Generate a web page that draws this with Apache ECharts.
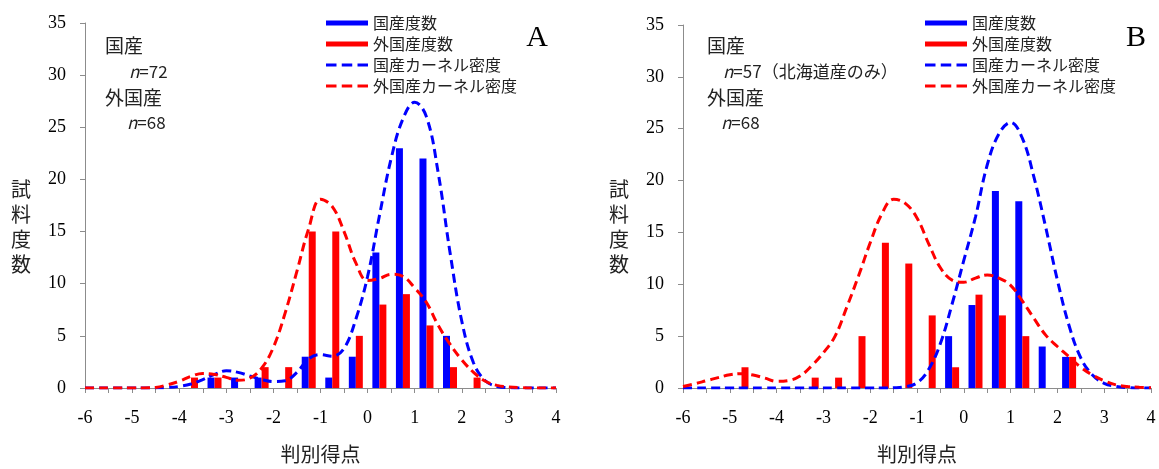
<!DOCTYPE html>
<html>
<head>
<meta charset="utf-8">
<script src="https://cdn.jsdelivr.net/npm/echarts@6/dist/echarts.min.js"></script>
<style>
html,body{margin:0;padding:0;background:#fff;}
#c{width:1159px;height:469px;}
</style>
</head>
<body>
<div id="c"></div>
<script>
// ---- data ----
const seriesNames = ['国産度数', '外国産度数', '国産カーネル密度', '外国産カーネル密度'];

const binCentersA = [-3.75, -3.25, -2.75, -2.25, -1.75, -1.25, -0.75, -0.25, 0.25, 0.75, 1.25, 1.75, 2.25];
const domesticA   = [0, 1, 1, 1, 0, 3, 1, 3, 13, 23, 22, 5, 0];
const foreignA    = [1, 1, 0, 2, 2, 15, 15, 5, 8, 9, 6, 2, 1];

const binCentersB = [-4.75, -4.25, -3.75, -3.25, -2.75, -2.25, -1.75, -1.25, -0.75, -0.25, 0.25, 0.75, 1.25, 1.75, 2.25];
const domesticB   = [0, 0, 0, 0, 0, 0, 0, 0, 0, 5, 8, 19, 18, 4, 3];
const foreignB    = [2, 0, 0, 1, 1, 5, 14, 12, 7, 2, 9, 7, 5, 0, 3];

const kdeX = [-6, -5.75, -5.5, -5.25, -5, -4.75, -4.5, -4.25, -4, -3.75,
              -3.5, -3.25, -3, -2.75, -2.5, -2.25, -2, -1.75, -1.5, -1.25,
              -1, -0.75, -0.5, -0.25, 0, 0.25, 0.5, 0.75, 1, 1.25,
              1.5, 1.75, 2, 2.25, 2.5, 2.75, 3, 3.25, 3.5, 3.75, 4];
const kdeDomesticA = [0, 0, 0, 0, 0, 0, 0.01, 0.05, 0.15, 0.38,
                      0.8, 1.3, 1.65, 1.5, 1.15, 0.82, 0.62, 0.7, 1.5, 2.8,
                      3.2, 3.05, 3.8, 6.6, 10.7, 16.5, 22, 25.8, 27.4, 26,
                      20.6, 13, 6.4, 2.4, 0.7, 0.15, 0.03, 0, 0, 0, 0];
const kdeForeignA  = [0, 0, 0, 0, 0, 0.01, 0.05, 0.3, 0.65, 1.12,
                      1.4, 1.3, 1.02, 0.74, 0.95, 1.9, 3.9, 7.2, 11.2, 15.3,
                      18.1, 17.4, 15.0, 12.0, 10.3, 10.5, 10.9, 10.7, 9.6, 8.2,
                      6.0, 4.2, 2.7, 1.5, 0.65, 0.25, 0.1, 0.03, 0, 0, 0];
const kdeDomesticB = [0, 0, 0, 0, 0, 0, 0, 0, 0, 0,
                      0, 0, 0, 0, 0, 0, 0, 0, 0.02, 0.12,
                      0.5, 1.8, 4.3, 8.1, 12.3, 16.5, 21.5, 24.5, 25.6, 24.1,
                      20.3, 15.5, 10.4, 6.0, 2.9, 1.25, 0.45, 0.15, 0.04, 0, 0];
const kdeForeignB  = [0.15, 0.4, 0.7, 1.0, 1.28, 1.38, 1.25, 0.95, 0.65, 0.72,
                      1.15, 2.15, 3.4, 5.0, 7.8, 10.8, 14.0, 16.8, 18.2, 17.8,
                      16.4, 13.9, 11.6, 10.4, 10.2, 10.6, 10.9, 10.6, 9.9, 8.4,
                      6.7, 5.1, 4.0, 3.0, 2.0, 1.25, 0.7, 0.3, 0.15, 0.07, 0.02];

const xMin = -6, xMax = 4, xStep = 0.5;
const yMin = 0, yMax = 35, yStep = 5;
const yAxisTitle = '試料度数';
const xAxisTitle = '判別得点';
const notesA = ['国産', '72', '外国産', '68'];
const notesB = ['国産', '57（北海道産のみ）', '外国産', '68'];

// ---- helpers ----
const zip = (xs, ys) => xs.map((x, i) => [x, ys[i]]);
const BLUE = '#0000FF', RED = '#FF0000', AX = '#8c8c8c';
const serif = 'Liberation Serif';
const jp = 'Noto Sans CJK JP';
const DASH_ICON = 'path://M0,0h10v3h-10z M15,0h10v3h-10z M30,0h10v3h-10z';

function xAxisOpt(gi) {
  return {
    type: 'value', gridIndex: gi, min: xMin, max: xMax, interval: xStep,
    axisLine: {show: true, onZero: false, lineStyle: {color: AX, width: 1}},
    axisTick: {show: true, length: 5, lineStyle: {color: AX}},
    splitLine: {show: false},
    axisLabel: {
      margin: 21, fontFamily: serif, fontSize: 18, color: '#000',
      formatter: v => (Math.abs(v - Math.round(v)) < 1e-9 ? String(Math.round(v)) : '')
    },
    name: xAxisTitle, nameLocation: 'middle', nameGap: 56,
    nameTextStyle: {fontFamily: jp, fontSize: 20, color: '#222'}
  };
}
function yAxisOpt(gi) {
  return {
    type: 'value', gridIndex: gi, min: yMin, max: yMax, interval: yStep,
    axisLine: {show: true, onZero: false, lineStyle: {color: AX, width: 1}},
    axisTick: {show: true, length: 5, lineStyle: {color: AX}},
    splitLine: {show: false},
    axisLabel: {margin: 19, fontFamily: serif, fontSize: 18, color: '#000'}
  };
}
function panelSeries(gi, centers, dom, forg, kd, kf) {
  return [
    {name: seriesNames[0], type: 'bar', xAxisIndex: gi, yAxisIndex: gi, data: zip(centers, dom),
     barWidth: 7, barGap: '0%', itemStyle: {color: BLUE}, z: 2},
    {name: seriesNames[1], type: 'bar', xAxisIndex: gi, yAxisIndex: gi, data: zip(centers, forg),
     barWidth: 7, barGap: '0%', itemStyle: {color: RED}, z: 2},
    {name: seriesNames[2], type: 'line', xAxisIndex: gi, yAxisIndex: gi, data: zip(kdeX, kd),
     smooth: 0.4, symbol: 'none', showSymbol: false, z: 4, itemStyle: {color: BLUE},
     lineStyle: {color: BLUE, width: 3, type: [9, 5]}},
    {name: seriesNames[3], type: 'line', xAxisIndex: gi, yAxisIndex: gi, data: zip(kdeX, kf),
     smooth: 0.4, symbol: 'none', showSymbol: false, z: 4, itemStyle: {color: RED},
     lineStyle: {color: RED, width: 3, type: [9, 5]}}
  ];
}
function legendOpt(left) {
  return {
    orient: 'vertical', left: left, top: 10, itemWidth: 42, itemHeight: 5, itemGap: 5,
    data: [
      {name: seriesNames[0], icon: 'rect'},
      {name: seriesNames[1], icon: 'rect'},
      {name: seriesNames[2], icon: DASH_ICON, itemStyle: {color: BLUE}},
      {name: seriesNames[3], icon: DASH_ICON, itemStyle: {color: RED}}
    ],
    selectedMode: false,
    textStyle: {fontFamily: jp, fontSize: 16, lineHeight: 16, color: '#222'}
  };
}
function noteTexts(x0, notes, nIndent) {
  const f = '19px "' + jp + '"';
  return [
    {type: 'text', left: x0, top: 36, style: {text: notes[0], font: f, fill: '#222'}},
    {type: 'text', left: x0 + nIndent, top: 63, style: {
      text: '{i|n}=' + notes[1], font: '17px "' + jp + '"', fill: '#222',
      rich: {i: {fontStyle: 'italic', font: 'italic 17px "' + jp + '"', fill: '#222'}}}},
    {type: 'text', left: x0, top: 88, style: {text: notes[2], font: f, fill: '#222'}},
    {type: 'text', left: x0 + nIndent - 2, top: 114, style: {
      text: '{i|n}=' + notes[3], font: '17px "' + jp + '"', fill: '#222',
      rich: {i: {fontStyle: 'italic', font: 'italic 17px "' + jp + '"', fill: '#222'}}}}
  ];
}
function vertTitle(cx) {
  return {type: 'text', x: cx, y: 227, style: {
    text: yAxisTitle.split('').join('\n'), font: '20px "' + jp + '"', lineHeight: 25,
    fill: '#222', align: 'center', verticalAlign: 'middle'}};
}

const chart = echarts.init(document.getElementById('c'), null, {renderer: 'canvas'});
chart.setOption({
  animation: false,
  backgroundColor: '#fff',
  grid: [
    {left: 85, top: 23, width: 471, height: 366},
    {left: 683, top: 25, width: 468, height: 365}
  ],
  xAxis: [xAxisOpt(0), xAxisOpt(1)],
  yAxis: [yAxisOpt(0), yAxisOpt(1)],
  legend: [legendOpt(321), legendOpt(920)],
  series: [].concat(
    panelSeries(0, binCentersA, domesticA, foreignA, kdeDomesticA, kdeForeignA),
    panelSeries(1, binCentersB, domesticB, foreignB, kdeDomesticB, kdeForeignB)
  ),
  graphic: [].concat(
    noteTexts(105, notesA, 24),
    noteTexts(707, notesB, 16),
    [vertTitle(21), vertTitle(619),
     {type: 'text', x: 537, y: 38, style: {text: 'A', font: '30px "' + serif + '"', fill: '#000', align: 'center', verticalAlign: 'middle'}},
     {type: 'text', x: 1136, y: 38, style: {text: 'B', font: '30px "' + serif + '"', fill: '#000', align: 'center', verticalAlign: 'middle'}}]
  )
});
</script>
</body>
</html>
